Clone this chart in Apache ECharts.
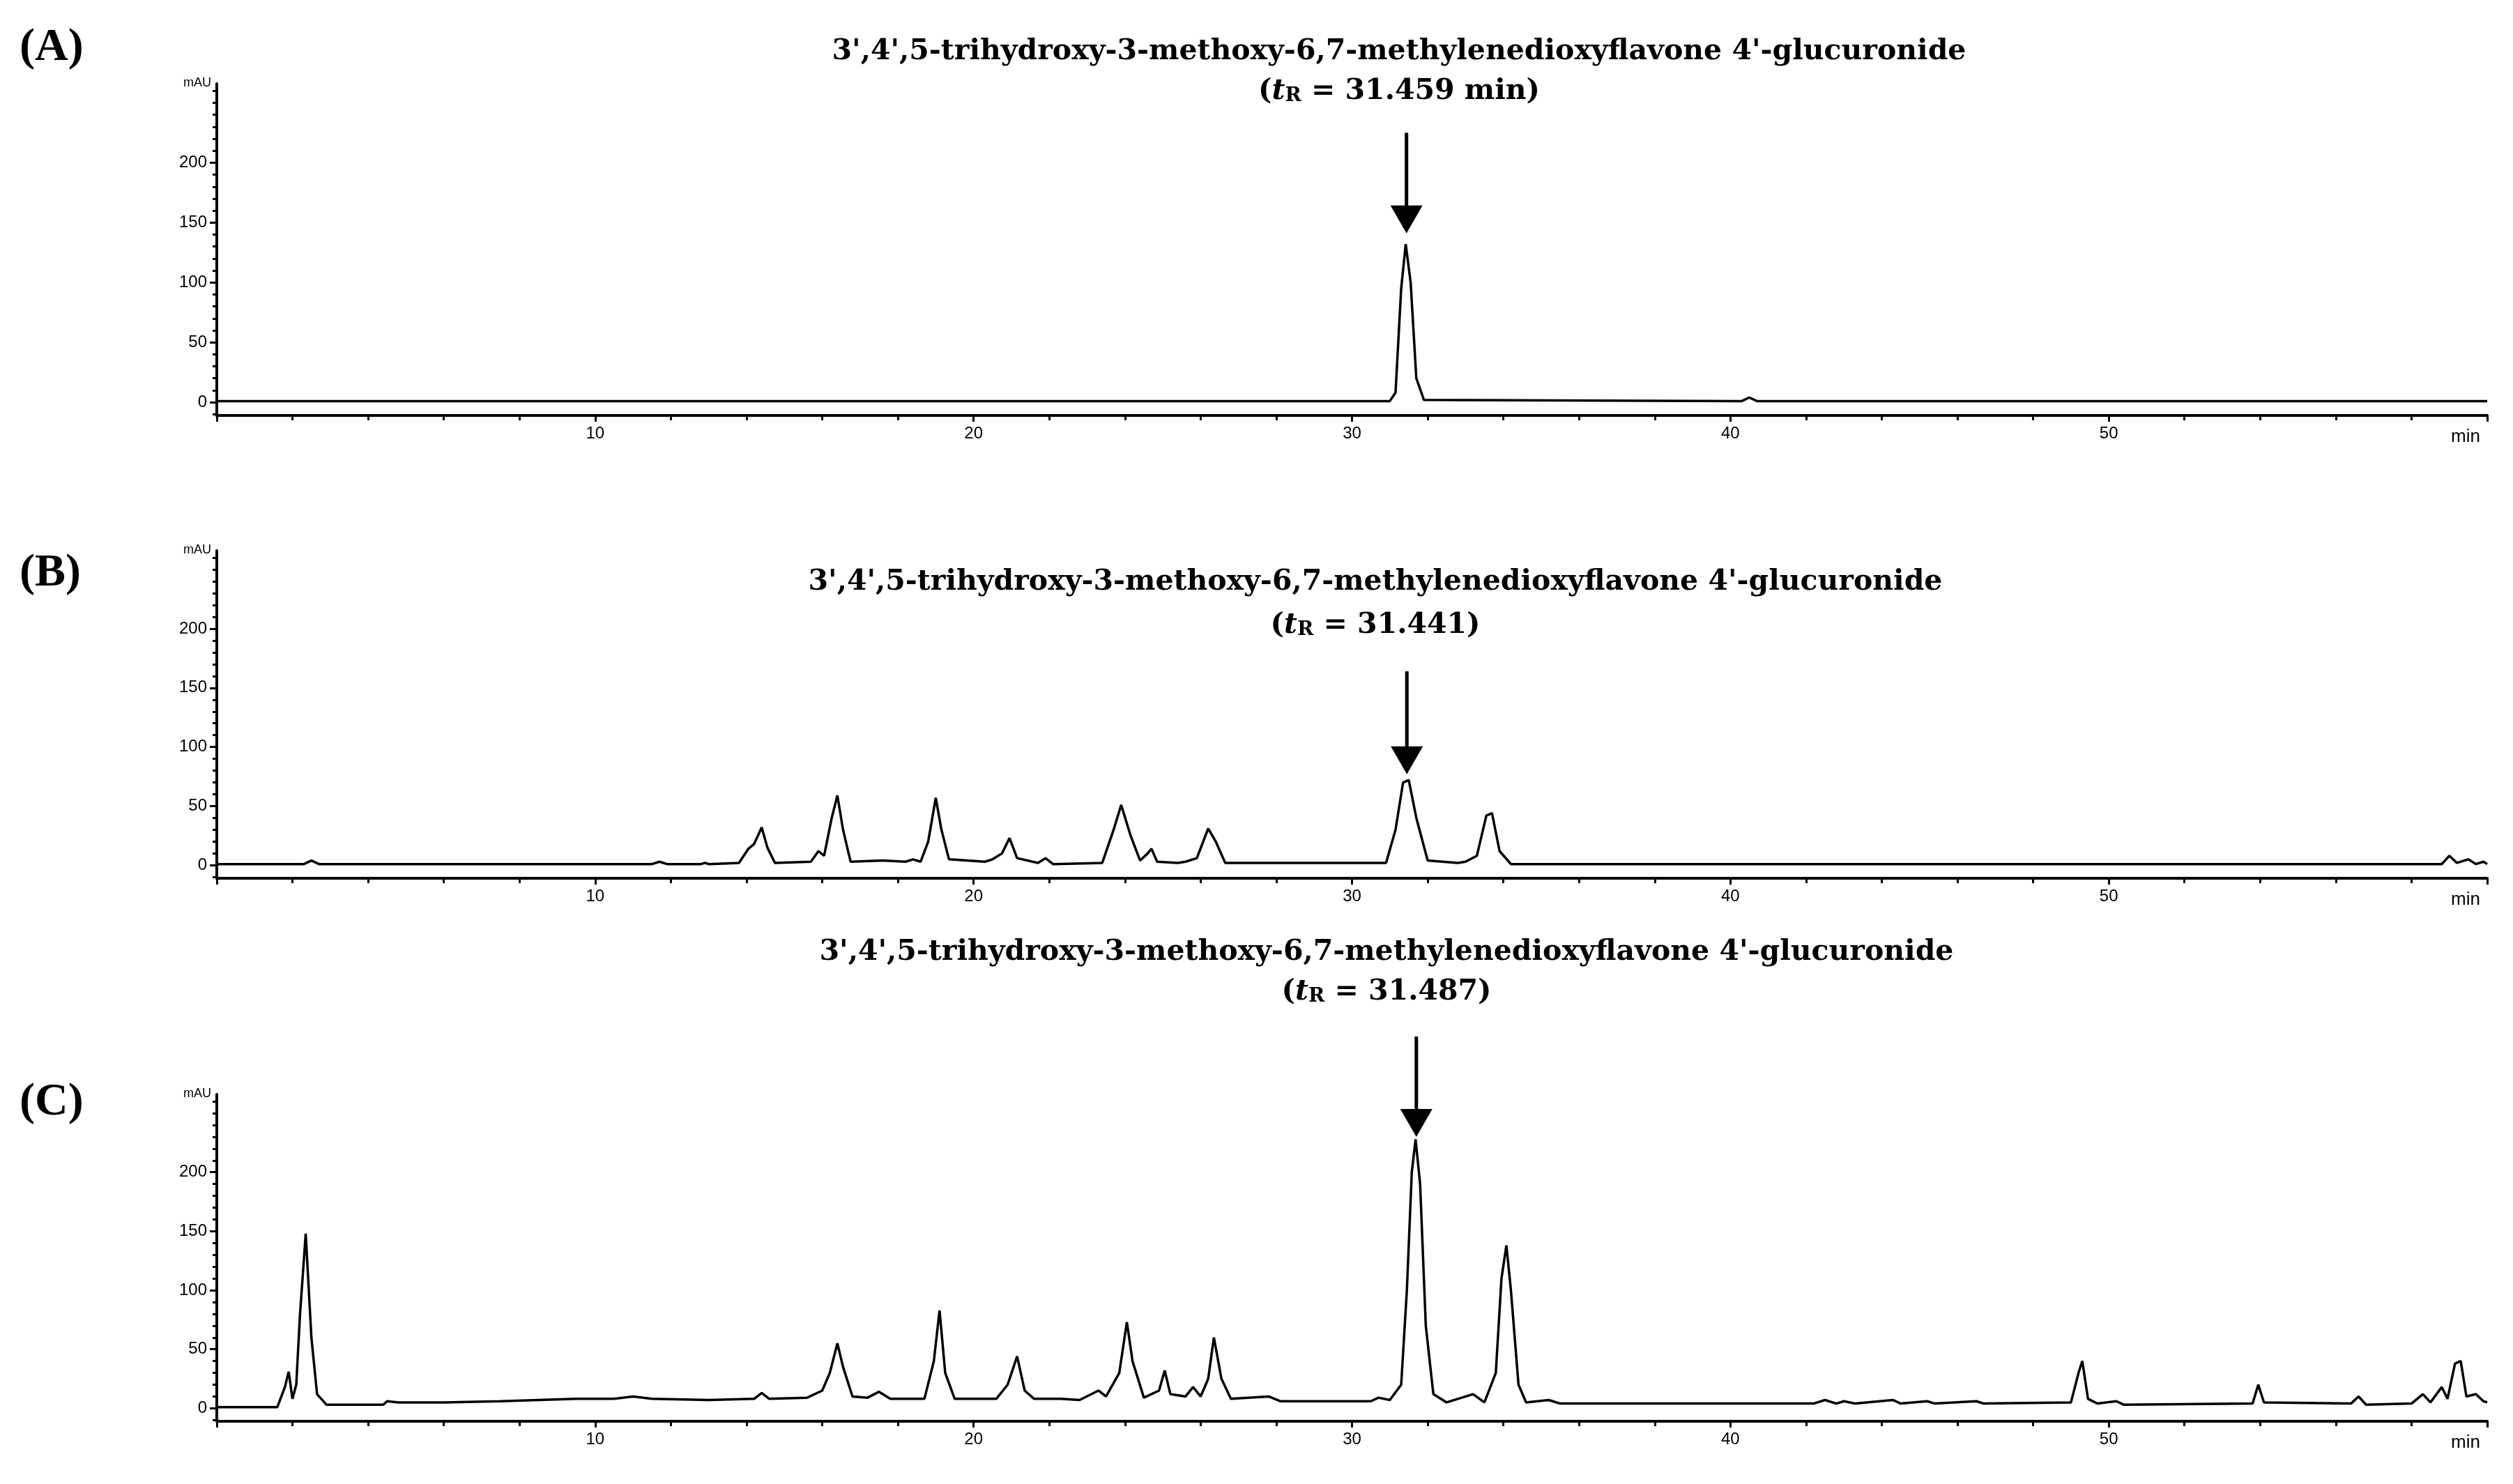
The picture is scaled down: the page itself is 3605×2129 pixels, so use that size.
<!DOCTYPE html>
<html><head><meta charset="utf-8">
<script src="https://cdn.jsdelivr.net/npm/echarts@6/dist/echarts.min.js"></script>
<style>html,body{margin:0;padding:0;background:#fff}#c{width:3605px;height:2129px}</style>
</head><body><div id="c"></div>
<script>
const traceA=[[0,1],[31.0,1],[31.15,8],[31.3,95],[31.42,132],[31.55,100],[31.7,20],[31.9,2],[40.3,1],[40.5,4],[40.7,1],[60,1]];
const traceB=[[0,1],[2.3,1],[2.5,4],[2.7,1],[11.5,1],[11.7,3],[11.9,1],[12.8,1],[12.9,2],[13.0,1],[13.8,2],[14.05,14],[14.2,18],[14.4,32],[14.55,15],[14.75,2],[15.7,3],[15.9,12],[16.05,8],[16.25,40],[16.4,59],[16.55,30],[16.75,3],[17.6,4],[18.2,3],[18.4,5],[18.6,3],[18.8,20],[19.0,57],[19.15,30],[19.35,5],[20.3,3],[20.5,5],[20.75,10],[20.95,23],[21.15,6],[21.7,2],[21.9,6],[22.1,1],[23.4,2],[23.7,30],[23.9,51],[24.15,25],[24.4,4],[24.6,10],[24.7,14],[24.85,3],[25.4,2],[25.6,3],[25.9,6],[26.2,31],[26.4,20],[26.65,2],[30.9,2],[31.15,30],[31.35,70],[31.5,72],[31.7,40],[32.0,4],[32.8,2],[33.0,3],[33.3,8],[33.55,42],[33.7,44],[33.9,12],[34.2,1],[58.8,1],[59.0,8],[59.2,2],[59.5,5],[59.7,1],[59.9,3],[60,1]];
const traceC=[[0,1],[1.6,1],[1.8,18],[1.9,31],[2.0,8],[2.1,20],[2.2,80],[2.35,148],[2.5,60],[2.65,12],[2.9,3],[4.4,3],[4.5,6],[4.8,5],[6,5],[7.5,6],[9.5,8],[10.5,8],[11,10],[11.5,8],[13,7],[14.2,8],[14.4,13],[14.6,8],[15.6,9],[16.0,15],[16.2,30],[16.4,55],[16.55,35],[16.8,10],[17.2,9],[17.5,14],[17.8,8],[18.7,8],[18.95,40],[19.1,83],[19.25,30],[19.5,8],[20.6,8],[20.9,20],[21.15,44],[21.35,15],[21.6,8],[22.3,8],[22.8,7],[23.3,15],[23.5,10],[23.85,30],[24.05,73],[24.2,40],[24.5,9],[24.9,15],[25.05,32],[25.2,12],[25.6,10],[25.8,18],[26.0,10],[26.2,25],[26.35,60],[26.55,25],[26.8,8],[27.8,10],[28.1,6],[30.5,6],[30.7,9],[31.0,7],[31.3,20],[31.45,100],[31.58,200],[31.68,228],[31.8,190],[31.95,70],[32.15,12],[32.5,5],[33.2,12],[33.5,5],[33.8,30],[33.95,110],[34.08,138],[34.2,100],[34.4,20],[34.6,5],[35.2,7],[35.5,4],[38.5,4],[42.2,4],[42.5,7],[42.8,4],[43.0,6],[43.3,4],[44.3,7],[44.5,4],[45.2,6],[45.4,4],[46.5,6],[46.7,4],[49.0,5],[49.2,30],[49.3,40],[49.45,8],[49.7,4],[50.2,6],[50.4,3],[53.8,4],[53.95,20],[54.1,5],[56.4,4],[56.6,10],[56.8,3],[58.0,4],[58.3,12],[58.5,5],[58.8,18],[58.95,8],[59.15,38],[59.3,40],[59.45,10],[59.7,12],[59.9,6],[60,5]];
const traces=[traceA,traceB,traceC];
const yMajor=[0,50,100,150,200];
const yMinor=[-10,0,10,20,30,40,50,60,70,80,90,100,110,120,130,140,150,160,170,180,190,200,210,220,230,240,250,260];
const compound="3',4',5-trihydroxy-3-methoxy-6,7-methylenedioxyflavone 4'-glucuronide";
const tR=["31.459 min","31.441","31.487"];
const panelLabels=["(A)","(B)","(C)"];
const arrows=[[31.44,225,141],[31.45,164,77],[31.7,315,230]];

const grids=[{top:120,bottom:2129-596},{top:790,bottom:2129-1260},{top:1570,bottom:2129-2039}];
const ch=echarts.init(document.getElementById('c'));
const F='Liberation Sans';
const opt={animation:false,grid:[],xAxis:[],yAxis:[],series:[]};
grids.forEach((g,i)=>{
  opt.grid.push({left:311,right:37,top:g.top,bottom:g.bottom});
  opt.xAxis.push({type:'value',gridIndex:i,min:0,max:60,interval:10,
    axisLine:{onZero:false,lineStyle:{color:'#000',width:4}},
    axisTick:{length:9,lineStyle:{color:'#000',width:3}},
    minorTick:{show:true,splitNumber:5,length:7,lineStyle:{color:'#000',width:3}},
    axisLabel:{color:'#000',fontFamily:F,fontSize:24,margin:14,formatter:v=>(v===0||v===60)?'':v},
    splitLine:{show:false}});
  opt.yAxis.push({type:'value',gridIndex:i,position:'left',min:-11,max:266,
    name:'mAU',nameLocation:'end',nameGap:-8,nameTextStyle:{color:'#000',fontFamily:F,fontSize:18,align:'right',padding:[0,8,0,0]},
    axisLine:{onZero:false,lineStyle:{color:'#000',width:4}},
    axisTick:{length:10,customValues:yMajor,lineStyle:{color:'#000',width:3}},
    axisLabel:{color:'#000',fontFamily:F,fontSize:24,margin:14,customValues:yMajor},
    splitLine:{show:false}});
  opt.yAxis.push({type:'value',gridIndex:i,position:'left',offset:0,min:-11,max:266,
    axisLine:{show:false,onZero:false},axisLabel:{show:false},splitLine:{show:false},
    axisTick:{length:6,customValues:yMinor,lineStyle:{color:'#000',width:3}}});
  opt.series.push({type:'line',xAxisIndex:i,yAxisIndex:2*i,data:traces[i],showSymbol:false,
    lineStyle:{color:'#000',width:3.5},clip:false});
});
ch.setOption(opt);
const gr=[];
const titleY=[[74,131],[835,897],[1366,1423]];
const titleX=[2007,1973,1989];
const labY=[74,828,1587];
for(let i=0;i<3;i++){
  gr.push({type:'text',left:28,top:labY[i]-38,style:{text:panelLabels[i],font:'bold 66px "Liberation Serif"',fill:'#000'}});
  gr.push({type:'text',x:titleX[i],y:titleY[i][0],style:{text:compound,font:'bold 41px "DejaVu Serif"',fill:'#000',align:'center',verticalAlign:'middle'}});
  gr.push({type:'text',x:titleX[i],y:titleY[i][1],style:{rich:{a:{font:'bold 41px "DejaVu Serif"'},i:{font:'bold italic 41px "DejaVu Serif"'},s:{font:'bold 28px "DejaVu Serif"',padding:[14,0,0,0]}},
    text:'{a|(}{i|t}{s|R}{a| = '+tR[i]+')}',fill:'#000',align:'center',verticalAlign:'middle'}});
  const p1=ch.convertToPixel({gridIndex:i},[arrows[i][0],arrows[i][1]]);
  const p2=ch.convertToPixel({gridIndex:i},[arrows[i][0],arrows[i][2]]);
  gr.push({type:'line',shape:{x1:p1[0],y1:p1[1],x2:p2[0],y2:p2[1]-30},style:{stroke:'#000',lineWidth:5}});
  gr.push({type:'polygon',shape:{points:[[p2[0]-23,p2[1]-40],[p2[0]+23,p2[1]-40],[p2[0],p2[1]]]},style:{fill:'#000'}});
  const pm=ch.convertToPixel({gridIndex:i},[60,-11]);
  gr.push({type:'text',x:pm[0]-10,y:pm[1]+18,style:{text:'min',font:'26px "Liberation Sans"',fill:'#000',align:'right'}});
}
ch.setOption({graphic:gr});
</script></body></html>
